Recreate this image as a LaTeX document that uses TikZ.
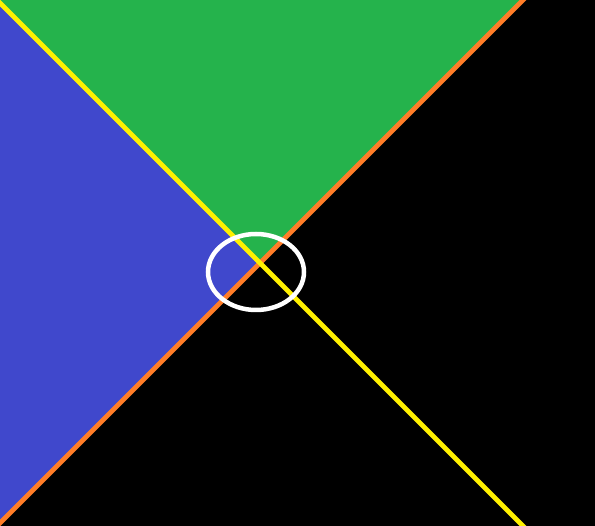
\documentclass[tikz,border=0pt]{standalone}
\usepackage{xcolor}
\usepackage{tikz}
\definecolor{regionblue}{RGB}{64,72,204}
\definecolor{regiongreen}{RGB}{37,179,76}
\definecolor{lineorange}{RGB}{255,125,40}
\definecolor{lineyellow}{RGB}{255,240,0}

\begin{document}
\begin{tikzpicture}[x=0.02cm,y=-0.02cm]
        \useasboundingbox (0,0) rectangle (595,526);
        \clip (0,0) rectangle (595,526);
        \fill[black] (0,0) rectangle (595,526);
        \coordinate (o) at (260,263);
        \fill[regiongreen] (0,0) -- (523,0) -- (o) -- (0,3) -- cycle;
        \fill[regionblue] (0,3) -- (o) -- (0,523) -- cycle;
        \draw[lineorange,line width=0.095cm] (-6,529) -- (529,-6);
        \draw[lineyellow,line width=0.095cm] (-6,-3) -- (529,532);
        \draw[white,line width=0.09cm] (256,272) ellipse (48 and 38);
                \end{tikzpicture}
\end{document}
